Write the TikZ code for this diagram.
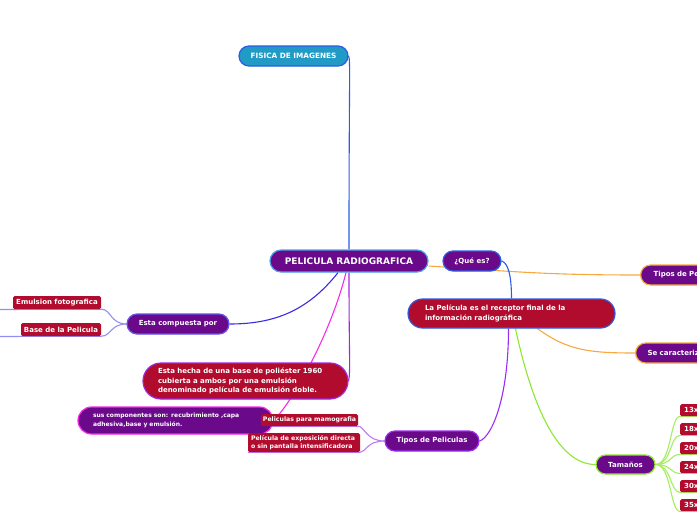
\documentclass[tikz,border=0pt]{standalone}
\usepackage{fontspec}
\setmainfont{DejaVu Sans}
\usetikzlibrary{backgrounds}
\definecolor{purp}{HTML}{6A0A8A}
\definecolor{crim}{HTML}{B10C2D}
\definecolor{teal1}{HTML}{219BC6}
\definecolor{cblue}{HTML}{2B5CE6}
\definecolor{corange}{HTML}{F7A940}
\definecolor{cgreen}{HTML}{8BE82C}
\definecolor{clgreen}{HTML}{A6EC62}
\definecolor{cviolet}{HTML}{9B2CF0}
\definecolor{cindigo}{HTML}{3A2AE6}
\definecolor{cmag}{HTML}{F52BE6}
\definecolor{clav}{HTML}{8F8FF5}
\definecolor{clav2}{HTML}{BB7CF5}
\definecolor{cpurp2}{HTML}{A126E0}
\definecolor{lblue}{HTML}{4DA0E8}
\begin{document}
\begin{tikzpicture}[x=1pt,y=-1pt,
  every node/.style={font=\fontsize{7}{9.5}\selectfont\bfseries, text=white, inner sep=0pt},
  pill/.style={draw, line width=1.2pt, fill=purp, rounded corners=#1},
  tag/.style={fill=crim, rounded corners=1.5pt},
  smallfont/.style={font=\fontsize{6.2}{8.5}\selectfont\bfseries},
  conn/.style={line width=1.1pt}
]
\useasboundingbox (0,0) rectangle (697,520);
\clip (0,0) rectangle (697,520);

% nodes
\node[pill=10pt, draw=cblue, fill=teal1, minimum width=109pt, minimum height=20pt, font=\fontsize{7.3}{9}\selectfont\bfseries] (fisica) at (293.5,56) {FISICA DE IMAGENES};
\node[pill=11pt, draw=lblue, minimum width=158pt, minimum height=22pt, font=\fontsize{9}{11}\selectfont\bfseries] (central) at (349,261) {PELICULA RADIOGRAFICA};
\node[pill=10pt, draw=cblue, minimum width=58pt, minimum height=20pt] (quees) at (472,261) {¿Qué es?};
\node[pill=14.5pt, draw=cblue, fill=crim, minimum height=29pt, text width=173pt, align=left, inner xsep=17pt] (lapel) at (511.5,313.5) {La Película es el receptor final de la\\información radiográfica};
\node[pill=10pt, draw=corange, minimum height=20pt, text width=60pt, align=left, inner xsep=13pt, anchor=west] (tipospe) at (640,275) {Tipos de Pe};
\node[pill=10pt, draw=corange, minimum height=20pt, text width=70pt, align=left, inner xsep=12pt, anchor=west] (secar) at (635,353) {Se caracteriz};
\node[pill=9.5pt, draw=cgreen, minimum width=59pt, minimum height=19pt] (tamanos) at (625.5,464.5) {Tamaños};

\node[tag, anchor=north west, minimum height=12pt, text width=30pt, inner xsep=4pt, align=left] (s1) at (680,404) {13x};
\node[tag, anchor=north west, minimum height=12pt, text width=30pt, inner xsep=4pt, align=left] (s2) at (680,423) {18x};
\node[tag, anchor=north west, minimum height=12pt, text width=30pt, inner xsep=4pt, align=left] (s3) at (680,442) {20x};
\node[tag, anchor=north west, minimum height=12pt, text width=30pt, inner xsep=4pt, align=left] (s4) at (680,461) {24x};
\node[tag, anchor=north west, minimum height=12pt, text width=30pt, inner xsep=4pt, align=left] (s5) at (680,480) {30x};
\node[tag, anchor=north west, minimum height=12pt, text width=30pt, inner xsep=4pt, align=left] (s6) at (680,499) {35x};

\node[pill=10pt, draw=cviolet, minimum width=94pt, minimum height=20pt] (tipospel) at (432,441) {Tipos de Peliculas};

\node[pill=13.5pt, draw=cmag, minimum height=27pt, text width=165pt, align=left, inner xsep=15pt, font=\fontsize{6}{8.5}\selectfont\bfseries] (suscomp) at (175.5,420.5) {sus componentes son: recubrimiento ,capa\\adhesiva,base y emulsión.};
\node[tag, smallfont, minimum width=97pt, minimum height=12pt] (mamo) at (309.5,420) {Peliculas para mamografia};
\node[tag, smallfont, minimum height=19pt, text width=106pt, inner xsep=3pt, align=left] (expo) at (304,442.5) {Película de exposición directa\\o sin pantalla intensificadora};

\node[pill=18pt, draw=cpurp2, fill=crim, minimum height=36pt, text width=175pt, align=left, inner xsep=15pt] (estahecha) at (245.5,381) {Esta hecha de una base de poliéster 1960\\cubierta a ambos por una emulsión\\denominado película de emulsión doble.};

\node[pill=10pt, draw=cindigo!80!white, minimum width=102pt, minimum height=20pt] (estacomp) at (178,324) {Esta compuesta por};
\node[tag, minimum width=88pt, minimum height=13pt] (emul) at (57,302.5) {Emulsion fotografica};
\node[tag, minimum width=80pt, minimum height=13pt] (base) at (61,329.5) {Base de la Pelicula};

\coordinate (emulend) at (0,309.5);
\coordinate (baseend) at (0,336.5);

% connectors
\begin{pgfonlayer}{background}
\draw[conn, cblue] (fisica.east) .. controls +(2,4) and +(0,-170) .. (central.north);
\draw[conn, corange] ([yshift=-5pt]central.east) .. controls +(90,6) and +(-90,0) .. (tipospe.west);
\draw[conn, cblue] (quees.east) .. controls +(6,2) and +(0,-25) .. (lapel.north);
\draw[conn, cviolet] ([xshift=-3pt]lapel.south) .. controls +(0,70) and +(12,-4) .. (tipospel.east);
\draw[conn, cgreen] ([xshift=4pt]lapel.south) .. controls +(15,70) and +(-40,0) .. (tamanos.west);
\draw[conn, corange] ([xshift=26pt]lapel.south) .. controls +(30,22) and +(-45,0) .. (secar.west);
\draw[conn, cindigo] ([xshift=-11pt]central.south) .. controls +(-30,38) and +(45,0) .. (estacomp.east);
\draw[conn, cpurp2] (central.south) .. controls +(0,85) and +(2,-10) .. (estahecha.east);
\draw[conn, cmag] ([xshift=-3pt]central.south) .. controls +(-15,60) and +(20,-20) .. (suscomp.east);
\draw[conn, clav] (estacomp.west) .. controls +(-16,0) and +(10,0) .. (emul.south east) -- (emulend);
\draw[conn, clav] (estacomp.west) .. controls +(-16,0) and +(10,0) .. (base.south east) -- (baseend);
\draw[conn, clav2] (tipospel.west) .. controls +(-18,0) and +(6,0) .. (mamo.south east) -- (mamo.south west);
\draw[conn, clav2] (tipospel.west) .. controls +(-18,0) and +(6,0) .. (expo.south east) -- (expo.south west);
\foreach \s in {s1,s2,s3,s4,s5,s6}
  \draw[conn, clgreen] (tamanos.east) .. controls +(16,0) and +(-10,0) .. (\s.south west) -- (\s.south east);
\end{pgfonlayer}
\end{tikzpicture}
\end{document}
